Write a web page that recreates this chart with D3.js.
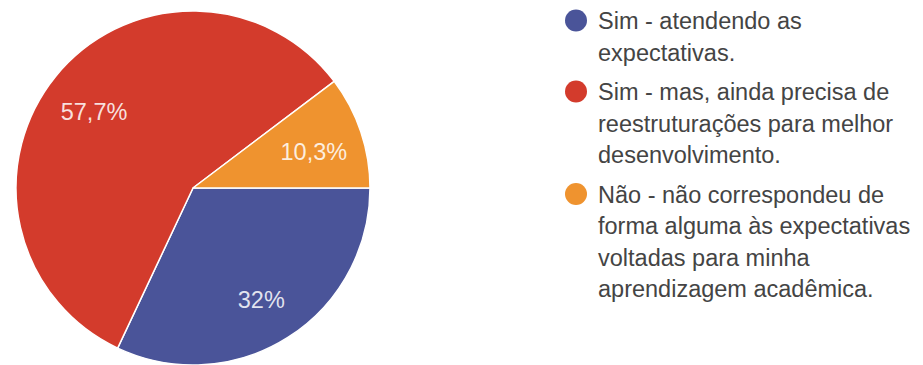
<!DOCTYPE html>
<html>
<head>
<meta charset="utf-8">
<script src="https://cdn.jsdelivr.net/npm/d3@7"></script>
<style>
  html, body { margin: 0; padding: 0; background: #ffffff; }
  svg { display: block; font-family: "Liberation Sans", Arial, sans-serif; }
</style>
</head>
<body>
<svg id="chart" width="923" height="365"></svg>
<script>
// ---- data ----
const categories = [
  ["Sim - atendendo as", "expectativas."],
  ["Sim - mas, ainda precisa de", "reestruturações para melhor", "desenvolvimento."],
  ["Não - não correspondeu de", "forma alguma às expectativas", "voltadas para minha", "aprendizagem acadêmica."]
];
const values = [32, 57.7, 10.3];
const valueLabels = ["32%", "57,7%", "10,3%"];
const colors = ["#4a5499", "#d33b2c", "#ef932f"];

// ---- layout ----
const svg = d3.select("#chart");
const cx = 193, cy = 188, r = 177;

const pie = d3.pie()
  .sort(null)
  .value(d => d)
  .startAngle(Math.PI / 2)
  .endAngle(Math.PI / 2 + 2 * Math.PI);

const arcs = pie(values);
const arc = d3.arc().innerRadius(0).outerRadius(r);
const labelArc = d3.arc().innerRadius(r * 0.72).outerRadius(r * 0.72);

const g = svg.append("g").attr("transform", `translate(${cx},${cy})`);

g.selectAll("path.slice")
  .data(arcs)
  .join("path")
  .attr("class", "slice")
  .attr("d", arc)
  .attr("fill", (d, i) => colors[i])
  .attr("stroke", "#ffffff")
  .attr("stroke-width", 1.5)
  .attr("stroke-linejoin", "round");

g.selectAll("text.val")
  .data(arcs)
  .join("text")
  .attr("class", "val")
  .attr("transform", d => `translate(${labelArc.centroid(d)})`)
  .attr("text-anchor", "middle")
  .attr("dy", "0.52em")
  .attr("fill", "#ffffff")
  .attr("fill-opacity", 0.85)
  .style("font-size", "23.5px")
  .text((d, i) => valueLabels[i]);

// ---- legend ----
const legX = 576, textX = 598;
const lineH = 31.5, itemGap = 39.5;
let y = 29;
const legend = svg.append("g");
categories.forEach((lines, i) => {
  legend.append("circle")
    .attr("cx", legX)
    .attr("cy", y - 8.5)
    .attr("r", 11)
    .attr("fill", colors[i]);
  const t = legend.append("text")
    .attr("x", textX)
    .attr("y", y)
    .attr("fill", "#444444")
    .style("font-size", "23.5px");
  lines.forEach((ln, j) => {
    t.append("tspan")
      .attr("x", textX)
      .attr("y", y + j * lineH)
      .text(ln);
  });
  y += (lines.length - 1) * lineH + itemGap;
});
</script>
</body>
</html>
